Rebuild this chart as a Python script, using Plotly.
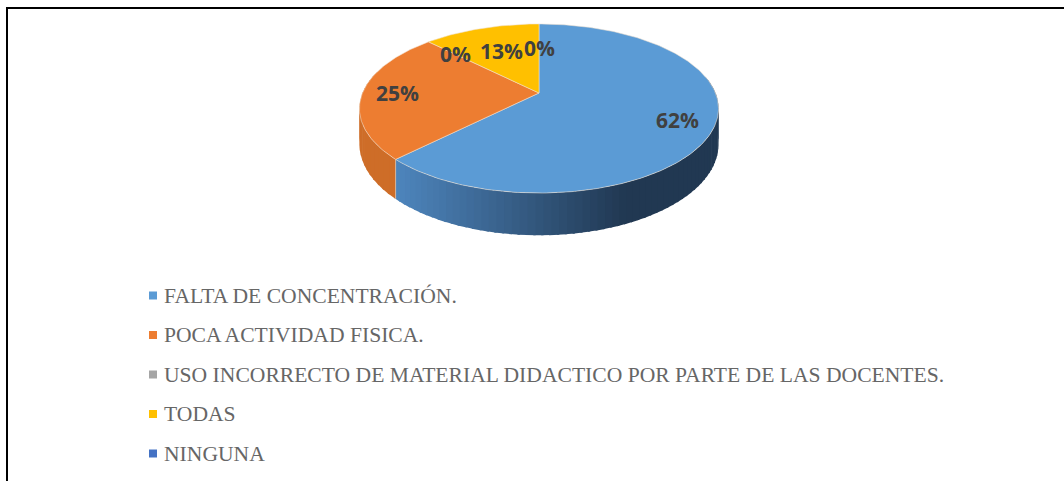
''' 3D looking pie chart of causes, drawn on pixel axes '''

## Imports
import math
import plotly.graph_objects as go

# Data
categories = [
    "FALTA DE CONCENTRACIÓN.",
    "POCA ACTIVIDAD FISICA.",
    "USO INCORRECTO DE MATERIAL DIDACTICO POR PARTE DE LAS DOCENTES.",
    "TODAS",
    "NINGUNA",
]
values = [62.5, 25, 0, 12.5, 0]
value_labels = ["62%", "25%", "0%", "13%", "0%"]
colors = ["#5B9BD5", "#ED7D31", "#A5A5A5", "#FFC000", "#4472C4"]

# Pie geometry (perspective projection of a unit disc onto the page)
CX, CY = 539, 93
AX, BY, K = 176.5, 81.7, 0.1834
DEPTH = 34.5
label_radius = [0.8, 0.8, 0.73, 0.62, 0.62]


def project(theta, r=1.0, down=0.0):
    x = r * math.sin(theta)
    y = r * math.cos(theta)
    w = 1 + K * y
    return CX + AX * x / w, CY - BY * y / w + down / w


def mix(c1, c2, t):
    return "rgb(%d,%d,%d)" % tuple(c1[i] + (c2[i] - c1[i]) * t for i in range(3))


fig = go.Figure()

# Angle range of each slice, clockwise from the top
total = sum(values)
starts = []
acc = 0
for v in values:
    starts.append(acc)
    acc += v
slices = [(s / total * 2 * math.pi, (s + v) / total * 2 * math.pi) for s, v in zip(starts, values)]

# Side wall, split in thin strips for the shading
wall_light = {0: (78, 134, 190), 1: (214, 114, 44)}
wall_dark = {0: (33, 56, 82), 1: (196, 102, 36)}
for i in (0, 1):
    a0, a1 = slices[i]
    a0 = max(a0, math.radians(78))
    a1 = min(a1, math.radians(285))
    steps = 70 if i == 0 else 20
    for j in range(steps):
        t0 = a0 + (a1 - a0) * j / steps
        t1 = a0 + (a1 - a0) * (j + 1.3) / steps
        top = [project(t0), project(t1)]
        bottom = [project(t1, down=DEPTH), project(t0, down=DEPTH)]
        pts = top + bottom
        mid_x = project((t0 + t1) / 2)[0]
        shade = min(1, max(0, (395 - mid_x) / -230)) if i == 0 else 0.4
        fig.add_trace(go.Scatter(
            x=[p[0] for p in pts],
            y=[p[1] for p in pts],
            mode="lines",
            fill="toself",
            fillcolor=mix(wall_light[i], wall_dark[i], shade),
            line=dict(width=0),
            hoverinfo="skip",
            showlegend=False
        ))

# Light seam where the blue wall meets the orange one
seam = [project(slices[0][1]), project(slices[0][1], down=DEPTH)]
fig.add_trace(go.Scatter(
    x=[p[0] for p in seam],
    y=[p[1] for p in seam],
    mode="lines",
    line=dict(color="#D9B79B", width=1),
    hoverinfo="skip",
    showlegend=False
))

# Top faces
for i, (a0, a1) in enumerate(slices):
    if values[i] == 0:
        continue
    n = max(2, int((a1 - a0) * 60))
    pts = [(CX, CY)] + [project(a0 + (a1 - a0) * j / n) for j in range(n + 1)] + [(CX, CY)]
    fig.add_trace(go.Scatter(
        x=[p[0] for p in pts],
        y=[p[1] for p in pts],
        mode="lines",
        fill="toself",
        fillcolor=colors[i],
        line=dict(color="rgba(240,225,210,0.55)", width=1),
        name=categories[i],
        text=value_labels[i],
        hoverinfo="name+text",
        showlegend=False
    ))

# Value labels
for i, (a0, a1) in enumerate(slices):
    lx, ly = project((a0 + a1) / 2, r=label_radius[i])
    fig.add_annotation(
        x=lx, y=ly, text=value_labels[i], showarrow=False,
        font=dict(family="Open Sans", size=21, color="#404040", weight="bold")
    )

# Legend keys and texts
LEGEND_X, LEGEND_Y, LEGEND_STEP = 153, 295.5, 39.5
for i, name in enumerate(categories):
    row_y = LEGEND_Y + i * LEGEND_STEP
    fig.add_trace(go.Scatter(
        x=[LEGEND_X],
        y=[row_y],
        mode="markers",
        marker=dict(symbol="square", size=8, color=colors[i]),
        hoverinfo="skip",
        showlegend=False
    ))
    fig.add_annotation(
        x=LEGEND_X + 11, y=row_y, text=name, showarrow=False, xanchor="left",
        xshift=-2,
        font=dict(family="Liberation Serif", size=21.6, color="#666666")
    )

# Chart layout
fig.update_layout(
    width=1064,
    height=481,
    margin=dict(l=0, r=0, t=0, b=0),
    paper_bgcolor="white",
    plot_bgcolor="white",
    showlegend=False,

    # Axes run in page pixels
    xaxis=dict(range=[0, 1064], visible=False, fixedrange=True),
    yaxis=dict(range=[481, 0], visible=False, fixedrange=True),

    # Frame, open on the right and at the bottom
    shapes=[
        dict(type="line", xref="x", yref="y", x0=6, y0=8, x1=1064, y1=8, line=dict(color="black", width=2)),
        dict(type="line", xref="x", yref="y", x0=7, y0=7, x1=7, y1=481, line=dict(color="black", width=2)),
    ]
)

# Drop the browser's default page margin so the axes line up with the window
fig.write_html(
    "out.html",
    config=dict(displayModeBar=False),
    post_script="document.body.style.margin='0';document.documentElement.style.overflow='hidden';"
)
